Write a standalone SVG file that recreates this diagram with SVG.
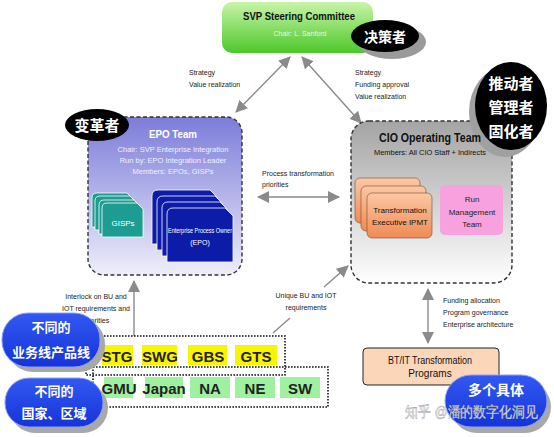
<svg xmlns="http://www.w3.org/2000/svg" width="554" height="437" viewBox="0 0 554 437">
<style>
text{font-family:"Liberation Sans",Arial,sans-serif}
.lbl{font-size:7px;fill:#222}
.cjk{font-family:"Noto Sans CJK SC","Liberation Sans",sans-serif;font-weight:bold;fill:#fff}
.conn{stroke:#8a8a8a;stroke-width:1.4;fill:none}
.cell{font-size:15px;font-weight:bold;fill:#222;text-anchor:middle}
.y{fill:#f8f500}
.g{fill:#9ff09f}
.teal{fill:#1d9c92;stroke:#fff;stroke-width:0.8}
.navy{fill:#0c1ca8;stroke:#fff;stroke-width:0.8}
.orange{fill:url(#og);stroke:#7a4a30;stroke-width:0.6}
.dash{stroke:#333;stroke-width:1.4;stroke-dasharray:4 2.5}
.dot{fill:none;stroke:#111;stroke-width:1.6;stroke-dasharray:1.6 1.4}
</style>
<defs>
<linearGradient id="sg" x1="0" y1="0" x2="0" y2="1"><stop offset="0" stop-color="#c8f4a8"/><stop offset="1" stop-color="#4cc82a"/></linearGradient>
<linearGradient id="eg" x1="0" y1="0" x2="0" y2="1"><stop offset="0" stop-color="#7c7cda"/><stop offset="1" stop-color="#eeeefa"/></linearGradient>
<linearGradient id="cg" x1="0" y1="0" x2="0" y2="1"><stop offset="0" stop-color="#a4a4a4"/><stop offset="1" stop-color="#ffffff"/></linearGradient>
<linearGradient id="og" x1="0" y1="0" x2="0" y2="1"><stop offset="0" stop-color="#fbc8a4"/><stop offset="1" stop-color="#f08a55"/></linearGradient>
<linearGradient id="bg" x1="0" y1="0" x2="0" y2="1"><stop offset="0" stop-color="#3358f2"/><stop offset="1" stop-color="#1434d8"/></linearGradient>
<marker id="ah" markerUnits="userSpaceOnUse" markerWidth="12" markerHeight="12" viewBox="0 0 12 12" refX="11" refY="6" orient="auto-start-reverse"><path d="M0,0 L12,6 L0,12 Z" fill="#8a8a8a"/></marker>
</defs>
<rect width="554" height="437" fill="#fff"/>

<g id="connectors">
<line class="conn" x1="290" y1="57" x2="236" y2="112" marker-start="url(#ah)" marker-end="url(#ah)"/>
<line class="conn" x1="302" y1="57" x2="361" y2="123" marker-start="url(#ah)" marker-end="url(#ah)"/>
<line class="conn" x1="258" y1="197" x2="339" y2="197" marker-start="url(#ah)" marker-end="url(#ah)"/>
<line class="conn" x1="428" y1="289" x2="428" y2="343" marker-start="url(#ah)" marker-end="url(#ah)"/>
<line class="conn" x1="134" y1="336" x2="134" y2="281" marker-end="url(#ah)"/>
<line class="conn" x1="324" y1="287" x2="348" y2="266" marker-end="url(#ah)"/>
<line class="conn" x1="290" y1="318" x2="273" y2="333"/>
<text class="lbl" x="189" y="75">Strategy</text>
<text class="lbl" x="189" y="87">Value realization</text>
<text class="lbl" x="355" y="75">Strategy</text>
<text class="lbl" x="355" y="87">Funding approval</text>
<text class="lbl" x="355" y="99">Value realization</text>
<text class="lbl" x="262" y="176">Process transformation</text>
<text class="lbl" x="262" y="187">priorities</text>
<text class="lbl" x="443" y="303">Funding allocation</text>
<text class="lbl" x="443" y="315">Program governance</text>
<text class="lbl" x="443" y="327">Enterprise architecture</text>
<text class="lbl" x="96" y="299" text-anchor="middle">Interlock on BU and</text>
<text class="lbl" x="96" y="311" text-anchor="middle">IOT requirements and</text>
<text class="lbl" x="96" y="323" text-anchor="middle">priorities</text>
<text class="lbl" x="306" y="298" text-anchor="middle">Unique BU and IOT</text>
<text class="lbl" x="306" y="310" text-anchor="middle">requirements</text>
</g>

<g id="svp">
<rect x="222" y="2" width="151" height="51" rx="10" fill="url(#sg)"/>
<text x="299" y="20" text-anchor="middle" font-size="11" font-weight="bold" fill="#111" textLength="112" lengthAdjust="spacingAndGlyphs">SVP Steering Committee</text>
<text x="300" y="36" text-anchor="middle" font-size="7" fill="#e6f8dc">Chair: L. Sanford</text>
<ellipse cx="392" cy="42" rx="34" ry="17" fill="#9a9a9a"/>
<ellipse cx="385" cy="36" rx="34" ry="16" fill="#000"/>
<text class="cjk" x="385" y="42" text-anchor="middle" font-size="14">决策者</text>
</g>

<g id="epo-team">
<rect x="88" y="117" width="154" height="158" rx="16" fill="url(#eg)" class="dash"/>
<text x="173" y="138" text-anchor="middle" font-size="11" font-weight="bold" fill="#fff" textLength="48" lengthAdjust="spacingAndGlyphs">EPO Team</text>
<text x="173" y="152" text-anchor="middle" font-size="7.5" fill="#f0f0ff">Chair:  SVP Enterprise Integration</text>
<text x="173" y="163" text-anchor="middle" font-size="7.5" fill="#f0f0ff">Run by:  EPO Integration Leader</text>
<text x="173" y="174" text-anchor="middle" font-size="7.5" fill="#f0f0ff">Members:  EPOs, GISPs</text>
<ellipse cx="97" cy="125" rx="32" ry="16" fill="#000"/>
<text class="cjk" x="97" y="131" text-anchor="middle" font-size="15">变革者</text>
</g>

<g id="gisps">
<path class="teal" d="M97,193 H127 L133,199 V227 H92 V198 Q92,193 97,193 Z"/>
<path class="teal" d="M100,196 H130 L136,202 V230 H95 V201 Q95,196 100,196 Z"/>
<path class="teal" d="M104,200 H134 L140,206 V234 H99 V205 Q99,200 104,200 Z"/>
<path class="teal" d="M107,203 H137 L143,209 V237 H102 V208 Q102,203 107,203 Z"/>
<text x="123" y="226" text-anchor="middle" font-size="8" fill="#fff">GISPs</text>
</g>

<g id="epo">
<path class="navy" d="M158,190 H210 L217,197 V244 H152 V196 Q152,190 158,190 Z"/>
<path class="navy" d="M163,196 H215 L222,203 V250 H157 V202 Q157,196 163,196 Z"/>
<path class="navy" d="M168,202 H220 L227,209 V256 H162 V208 Q162,202 168,202 Z"/>
<path class="navy" d="M173,208 H225 L233,216 V262 H167 V214 Q167,208 173,208 Z"/>
<text x="200" y="233" text-anchor="middle" font-size="7" fill="#fff" textLength="64" lengthAdjust="spacingAndGlyphs">Enterprise Process Owner</text>
<text x="200" y="245" text-anchor="middle" font-size="7" fill="#fff">(EPO)</text>
</g>

<g id="cio-team">
<rect x="351" y="121" width="161" height="162" rx="18" fill="url(#cg)" class="dash"/>
<ellipse cx="505" cy="112" rx="36" ry="45" fill="#a0a0a0"/>
<ellipse cx="511" cy="106" rx="36" ry="44" fill="#000"/>
<text class="cjk" x="511" y="89" text-anchor="middle" font-size="15">推动者</text>
<text class="cjk" x="511" y="113" text-anchor="middle" font-size="15">管理者</text>
<text class="cjk" x="511" y="137" text-anchor="middle" font-size="15">固化者</text>
<text x="430" y="142" text-anchor="middle" font-size="12" font-weight="bold" fill="#111" textLength="102" lengthAdjust="spacingAndGlyphs">CIO Operating Team</text>
<text x="430" y="155" text-anchor="middle" font-size="7.5" fill="#111" textLength="112" lengthAdjust="spacingAndGlyphs">Members:  All CIO Staff + Indirects</text>
</g>

<g id="ipmt">
<rect class="orange" x="355" y="178" width="65" height="45" rx="5"/>
<rect class="orange" x="361" y="186" width="65" height="45" rx="5"/>
<rect class="orange" x="367" y="193" width="65" height="45" rx="5"/>
<text x="400" y="213" text-anchor="middle" font-size="8" fill="#111">Transformation</text>
<text x="400" y="225" text-anchor="middle" font-size="8" fill="#111">Executive  IPMT</text>
</g>

<g id="run-mgmt">
<rect x="440" y="185" width="63" height="50" rx="5" fill="#f7a2df"/>
<text x="472" y="202" text-anchor="middle" font-size="8" fill="#222">Run</text>
<text x="472" y="215" text-anchor="middle" font-size="8" fill="#222">Management</text>
<text x="472" y="227" text-anchor="middle" font-size="8" fill="#222">Team</text>
</g>

<g id="btit">
<rect x="363" y="348" width="136" height="37" rx="4" fill="#fcd6b8" stroke="#222" stroke-width="1"/>
<text x="430" y="364" text-anchor="middle" font-size="10" fill="#111" textLength="84" lengthAdjust="spacingAndGlyphs">BT/IT Transformation</text>
<text x="430" y="377" text-anchor="middle" font-size="10" fill="#111">Programs</text>
</g>

<g id="lob-row">
<rect class="dot" x="86" y="336" width="199" height="39"/>
<rect class="y" x="102" y="345" width="31" height="20"/>
<rect class="y" x="142" y="345" width="35" height="20"/>
<rect class="y" x="188" y="345" width="39" height="20"/>
<rect class="y" x="235" y="345" width="42" height="20"/>
<text class="cell" x="117" y="362">STG</text>
<text class="cell" x="160" y="362">SWG</text>
<text class="cell" x="208" y="362">GBS</text>
<text class="cell" x="256" y="362">GTS</text>
</g>

<g id="geo-row">
<rect class="dot" x="93" y="367" width="235" height="40" fill="#fff"/>
<rect class="g" x="104" y="377" width="29" height="21"/>
<rect class="g" x="145" y="377" width="38" height="21"/>
<rect class="g" x="190" y="377" width="40" height="21"/>
<rect class="g" x="235" y="377" width="40" height="21"/>
<rect class="g" x="280" y="377" width="40" height="21"/>
<text class="cell" x="119" y="394">GMU</text>
<text class="cell" x="164" y="394">Japan</text>
<text class="cell" x="210" y="394">NA</text>
<text class="cell" x="255" y="394">NE</text>
<text class="cell" x="300" y="394">SW</text>
</g>

<g id="pill-lob">
<rect x="7" y="318" width="98" height="54" rx="26" fill="#a8a8a8"/>
<rect x="2" y="313" width="98" height="54" rx="26" fill="url(#bg)" stroke="#8ea0ff" stroke-width="1"/>
<text class="cjk" x="51" y="332" text-anchor="middle" font-size="13">不同的</text>
<text class="cjk" x="51" y="357" text-anchor="middle" font-size="13">业务线产品线</text>
</g>

<g id="pill-geo">
<rect x="10" y="383" width="98" height="50" rx="25" fill="#a8a8a8"/>
<rect x="5" y="378" width="98" height="49" rx="24" fill="url(#bg)" stroke="#8ea0ff" stroke-width="1"/>
<text class="cjk" x="54" y="396" text-anchor="middle" font-size="13">不同的</text>
<text class="cjk" x="54" y="418" text-anchor="middle" font-size="13">国家、区域</text>
</g>

<g id="pill-programs">
<rect x="451" y="381" width="100" height="52" rx="26" fill="#a8a8a8"/>
<rect x="445" y="375" width="102" height="52" rx="26" fill="url(#bg)" stroke="#8ea0ff" stroke-width="1"/>
<text class="cjk" x="496" y="395" text-anchor="middle" font-size="14">多个具体</text>
</g>

<g id="watermark">
<text x="405" y="417" font-family="Noto Sans CJK SC,sans-serif" font-size="15" fill="#f4f4f4" stroke="#9a9a9a" stroke-width="0.4" textLength="133" lengthAdjust="spacingAndGlyphs">知乎 @潘的数字化洞见</text>
</g>
</svg>
